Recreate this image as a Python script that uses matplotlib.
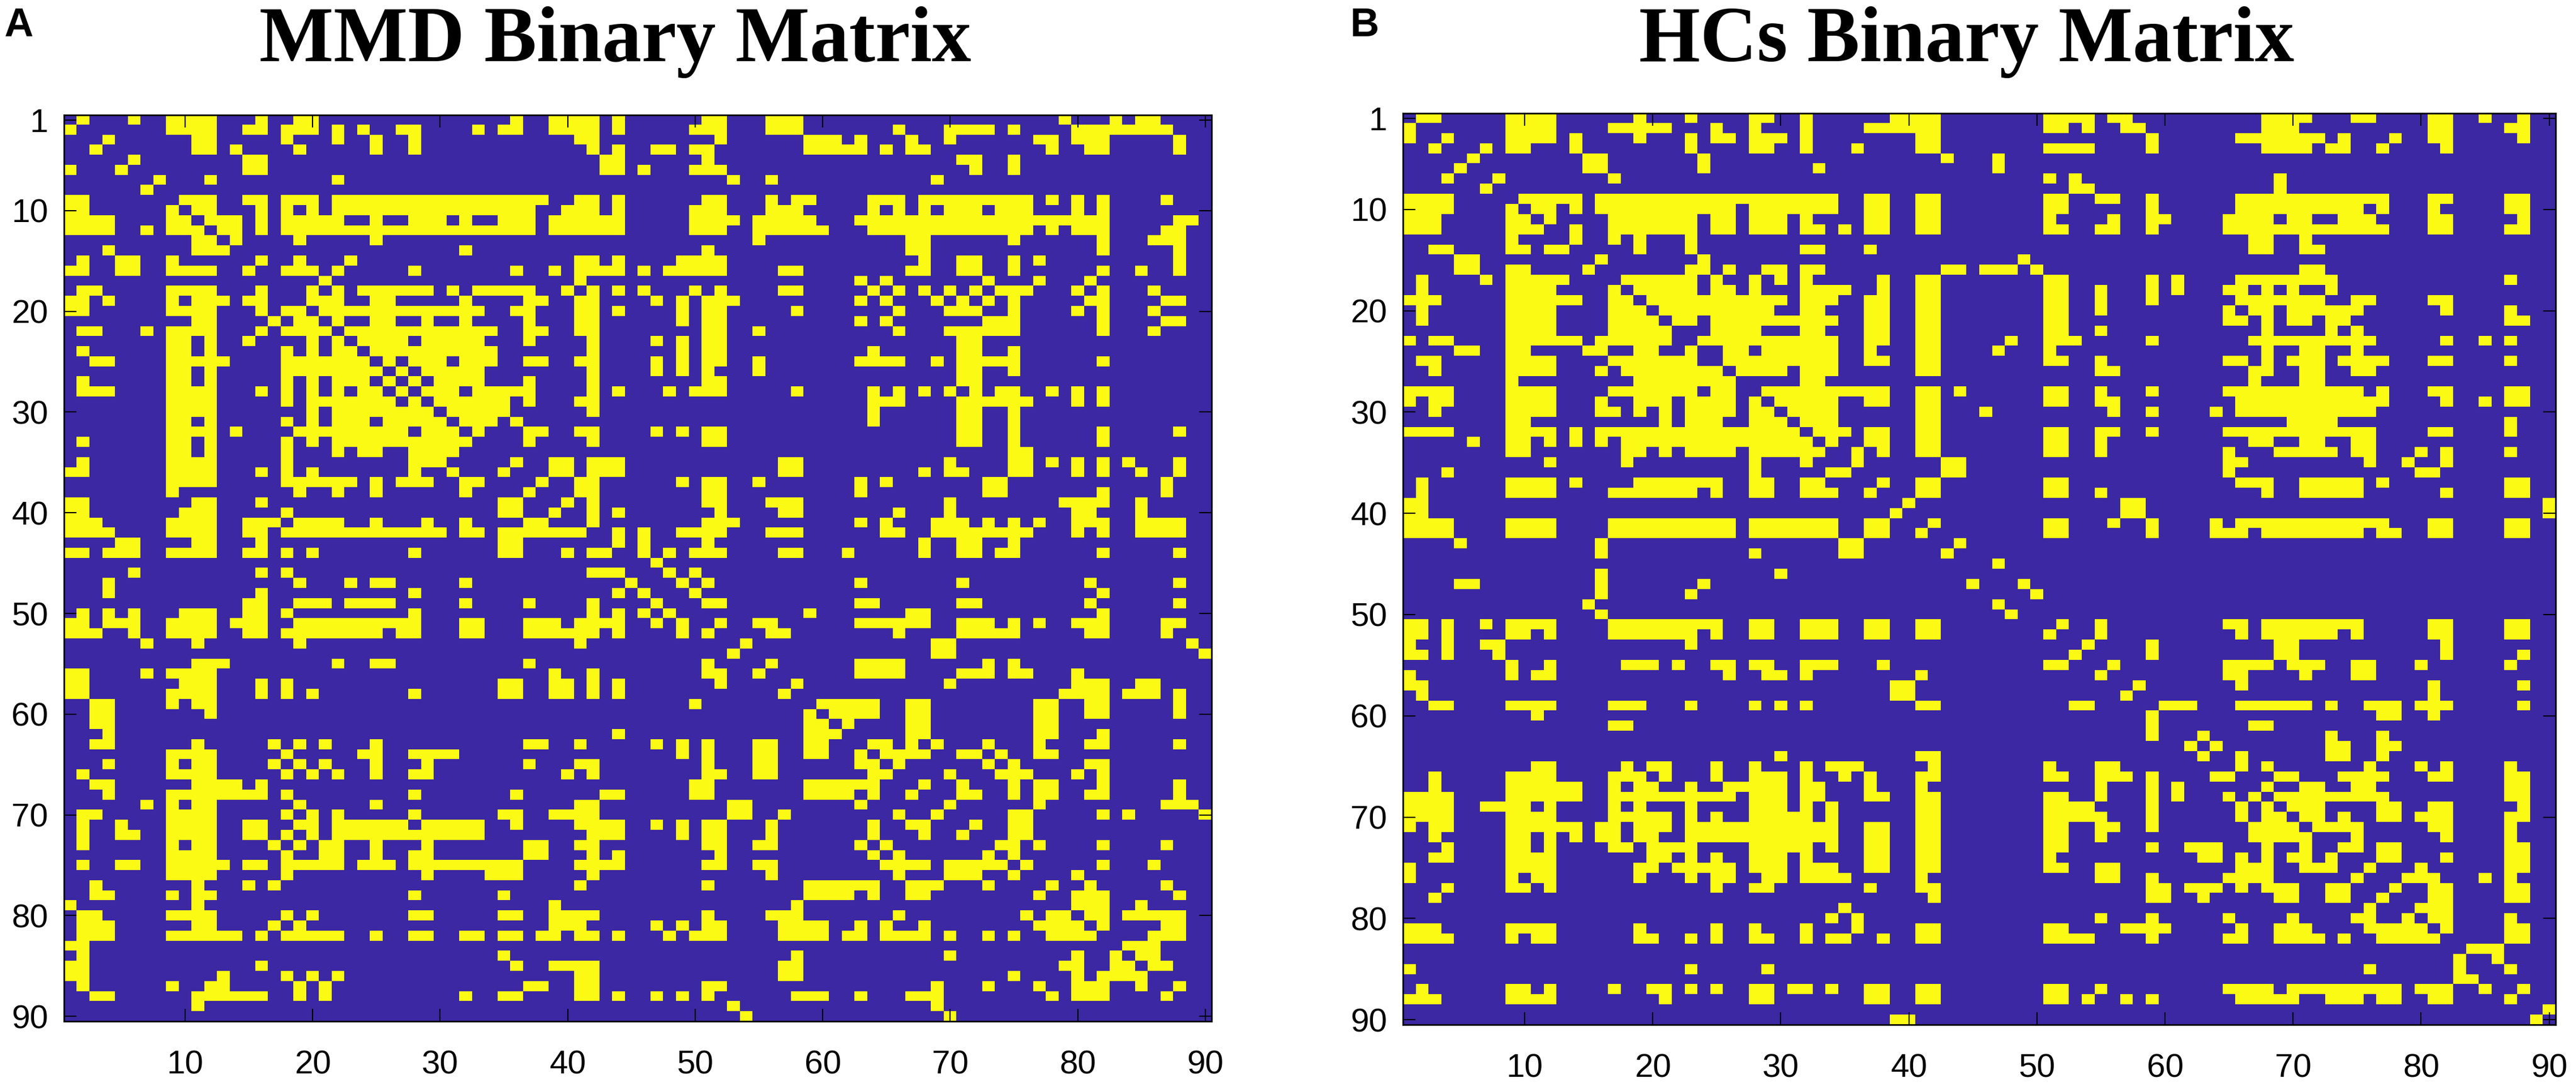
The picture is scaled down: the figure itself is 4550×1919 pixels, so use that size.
import numpy as np
import matplotlib
matplotlib.use("Agg")
import matplotlib.pyplot as plt
from matplotlib.colors import ListedColormap

# upper triangle of each symmetric matrix, one string per row (row 1 first),
# columns with a connection, a-b is a run of columns
mmd_rows = [
    "2 6 9-12 16 19-20 36 39-42 44 51-52 56-58 79 83 85-86",
    "9-12 15-16 18-20 22 24 27-28 33 35-36 39-42 44 50-52 56-58 66 70-73 75 80-87",
    "4 11-12 18 22 25 28 41-42 52 59-61 63 67 70 77-78 80-82 88",
    "11-12 14 19 25 28 42 44 47-48 50-51 59-63 65 67-68 78 81-82 88",
    "6 15-16 43-44 51 71-72 75",
    "15-16 43-44 46 50-52 72 75",
    "8 12 22 53 56 69",
    "",
    "10-12 15-16 18-20 22-38 41-42 44 51-52 56 58-59 64-66 68-76 78 80 82 87",
    "11-12 16 18 20 22-37 40-42 44 50-52 56-58 64 66 68 70-72 74-76 80 82",
    "12-14 16 18-22 25 28-30 32 35-37 39-44 50-53 55-59 63-82 88-89",
    "13-14 16 18-37 39-44 50-52 55-60 64-76 78 80-82 87-88",
    "14 19 25 55 67-68 75 82 86-88",
    "32 51 67-68 82 88",
    "16 19 23 41-42 44 49-52 68 71-72 75 77 88",
    "18-20 22 28 36 39 41-44 46 48-52 57-58 67-68 71-72 75 82 85 88",
    "21 41 63 65 73 77 81",
    "20 22 24-29 31 33-37 40 42 44 46 50 52 57-58 64 66 68 70 72 74-76 80 82 86",
    "20-22 25-26 32 37-38 41-42 47 49 51-53 63 65 69 71 73 75 81-82 87-88",
    "21-33 36-37 41-42 44 49 51-52 58 66 70-72 75 80 82 86",
    "22 25-26 29 32 37 41-42 49 51-52 63 65 73-75 82 87-88",
    "23-34 37-38 41-42 51-52 55 66 70-75 82 86",
    "24-27 29-33 37 42 47 49 51-52 71-72",
    "25-34 42 49 51-52 64 71-72 75",
    "26 28-30 32-34 37-38 41-42 47 49 51-52 55 63-66 69 71-75 82",
    "27 29-33 42 47 49 51 55 71-72 75",
    "28 30-33 37 42 51-52 71-72",
    "29-31 33-37 42 44 48 50-52 58 64 66 68 70 72 74-75 78 80 82",
    "30-35 37 41-42 64-66 71-76 80 82",
    "31-35 42 64 71-72 75",
    "32-34 36 64 71-72 75",
    "33 37-38 41-42 47 49 51-52 71-72 75 82 88",
    "37 42 51-52 71-72 75 82",
    "75-76",
    "36 39-40 42-44 57-58 70 75-76 78 80 82 84 88",
    "39-40 42-44 57-58 68 70-71 75-76 80 82 85 88",
    "38 41-42 49 51-52 55 63 65 73-74 87",
    "41-42 51-52 63 73-74 82 87",
    "40 42 51-52 56-58 70 79-82 85",
    "42 44 52 57-58 66 70 80-81 85",
    "42 51-53 63 65 69-71 73 75 77 80-82 85-88",
    "44 46 49-52 56-58 65-66 69-76 80 82 85-88",
    "44 46 51 68 71-72 75",
    "46 48 50-52 57-58 62 68 71-72 74-75 82 88",
    "47",
    "48 50",
    "49 51 63 71 81 88",
    "50 82",
    "51-52 63-64 71-72 81 88",
    "59 67-68 82",
    "52 55-56 63-68 71-73 75 77 80-82 87-88",
    "56-57 66 71-75 81-82 87",
    "54 69-70 89",
    "69-70 90",
    "56 63-66 73 75",
    "63-66 71-73 75-76 80",
    "58 70 80-82 85-86",
    "79-82 84-86 88",
    "60-64 67-68 77-78 81-82 88",
    "61-64 67-68 77-78 81-82 88",
    "62 67-68 77-78",
    "67-68 77-78 82",
    "64-65 67 69 73 77 81-82 88",
    "65-68 71-72 74 77-78",
    "66 73 75 81-82",
    "70 74-76 80 82",
    "68 71 75 77-78 82 88",
    "71-72 75 77-78 81-82 88",
    "70 77 87-89",
    "75-76 82 84 90",
    "72 75-76",
    "75-76",
    "74-75 77 82 87",
    "75",
    "76 82 86",
    "80",
    "78 81 87",
    "80-82 88",
    "80-82 85",
    "81-82 84-88",
    "82 87-88",
    "86-88",
    "84-86",
    "85-86",
    "86-87",
    "",
    "88",
    "",
    "",
    "",
]

hc_rows = [
    "2-3 9-12 19 23 28-29 32 39-42 51-54 56-57 68-71 75-76 81-82 85 88",
    "9-12 17-21 25 28 32 37-42 51-52 54 57-58 68-70 81-82 87-88",
    "4 9-12 14 19 23 25-26 28-30 32 41-42 59 66-72 74 78 81-82 88",
    "7 9-10 14 23 28-29 32 36 41-42 51-54 59 68-71 73-74 77 82",
    "6 15-16 24 43 47",
    "15-16 24 33 47",
    "8 17 51 53 69",
    "53-54 69",
    "10-14 16-34 37-38 41-42 51-52 55-56 59 66-77 81-82 87-88",
    "11-12 14 16-26 28-34 37-38 41-42 51-52 59 66-75 77 81 87-88",
    "12 17-23 25-26 28-30 32 37-38 41-42 51 56 59-60 65-68 70-71 74-76 81-82 88",
    "14 17-23 25-26 28-30 32-33 35 37-38 41-42 51-52 55-56 59 65-77 81-82 87-88",
    "14 17 19 23 67-68 71",
    "19 23 32-33 37 67-68 71-72",
    "16 24 49",
    "23-24 26 29-30 32-33 43-44 46-48 50 71-72",
    "18-23 25 28 30 32 38 41-42 51-52 59 61 66-73 87",
    "19-23 25-26 28 32-35 38 41-42 51-52 55 59 61 65-66 68 70 73",
    "20-30 32-34 37-38 41-42 51-52 55 59 66-72 75-76 81-82",
    "21-29 32-33 37-38 41-42 51-52 55 65 67-68 70-75 82 87",
    "22-23 25-34 37-38 41-42 51-52 65-66 68 70-71 73-74 87-88",
    "25-28 32-33 37-38 41-42 51-52 55 68 73 75",
    "24-34 37-38 41-42 48 51-53 59 67-76 82 85 87",
    "26-27 29-34 37 41-42 47 51 68 71-72 75",
    "26-34 37-38 41-42 51-52 55 65-66 68 70-72 74-77 81-82 87",
    "27-30 32-34 41-42 55-56 67-68 71-72 75-76",
    "32-33 67 71-72",
    "29-38 41-42 44 51-52 55 59 65-75 77 81-82 87-88",
    "30-34 37-38 41-42 51-52 55-56 66-77 82 85 87-88",
    "31-34 41-42 46 56 59 64 66-76",
    "32-34 41-42 70-73 87",
    "33-35 37-38 41-42 51-52 55-56 59 65-76 81-82 87",
    "34 37-38 41-42 51-52 55 67-68 71-72 75-76",
    "36 38 41-42 51-52 55 65 69-73 75-76 80 82 87",
    "36 43-44 65-66 76 79 82",
    "43-44 65 80-81",
    "38 41-42 51-52 66-68 71-75 77 87-88",
    "41-42 51-52 55 68 71-75 82 87-88",
    "40 57-58 90",
    "57-58 90",
    "42 51-52 56 59 64 66-77 81-82 87-88",
    "51-52 59 64-66 68-75 77-78 81-82 87-88",
    "44",
    "",
    "47",
    "",
    "49",
    "50",
    "",
    "",
    "52 55 65-66 68-75 81-82 87-88",
    "55 66 68-73 75 81-82 87-88",
    "54 59 69-70 82",
    "59 69-70 82 88",
    "56 65-68 70-72 75-76 80 87",
    "65-66 71 75-76",
    "58 66 81 88",
    "81",
    "60-62 66-71 73 76-78 80-82 88",
    "77-78 81",
    "67-68",
    "63 73 77",
    "64 73-74 77-78",
    "66 73-74 77",
    "66 68 76 80 82 87",
    "69-70 74-77 81-82 87-88",
    "68 71-72 75-76 87-88",
    "69-77 87-88",
    "70-72 77-78 81-82 88",
    "71-72 74 77-78 80-82 87-88",
    "72-75 81-82 87",
    "75 82 87",
    "74-75 77-78 87-88",
    "77-78 82 87-88",
    "76 80 87-88",
    "79-81 85 87",
    "78 81-82 87-88",
    "81-82 87-88",
    "80-82",
    "81-82 87",
    "82 87-88",
    "87-88",
    "84-86",
    "86",
    "87",
    "",
    "88",
    "",
    "90",
    "",
]

titles = ["MMD Binary Matrix", "HCs Binary Matrix"]
letters = ["A", "B"]
x_ticks = [10, 20, 30, 40, 50, 60, 70, 80, 90]
y_ticks = [1, 10, 20, 30, 40, 50, 60, 70, 80, 90]

W, H = 4550, 1919


def to_matrix(rows):
    m = np.zeros((90, 90))
    for i, line in enumerate(rows):
        for part in line.split():
            a, _, b = part.partition("-")
            b = b or a
            m[i, int(a) - 1:int(b)] = 1
    return m + np.triu(m, 1).T


def add_panel(fig, rows, box, title, title_x, letter, letter_x):
    left, top, right, bottom = box
    ax = fig.add_axes([left / W, 1 - bottom / H, (right - left) / W, (bottom - top) / H])
    ax.imshow(to_matrix(rows), cmap=cmap, vmin=0, vmax=1, aspect="auto",
              interpolation="nearest", extent=(0.5, 90.5, 90.5, 0.5))
    ax.set_xticks(x_ticks)
    ax.set_yticks(y_ticks)
    ax.tick_params(axis="x", direction="in", top=True, length=16, width=1.5,
                   pad=36, labelsize=42)
    ax.tick_params(axis="y", direction="in", right=True, length=16, width=1.5,
                   pad=20, labelsize=42)
    for s in ax.spines.values():
        s.set_linewidth(2)
    fig.text(title_x / W, 1 - 108 / H, title, family="Liberation Serif", weight="bold",
             fontsize=100, ha="center", va="baseline")
    fig.text(letter_x / W, 1 - 64 / H, letter, family="Liberation Sans", weight="bold",
             fontsize=51, ha="left", va="baseline")


plt.rcParams["font.family"] = ["Liberation Sans", "DejaVu Sans"]
cmap = ListedColormap(["#3B28A2", "#FAFA14"])

fig = plt.figure(figsize=(W / 100, H / 100), dpi=100)
add_panel(fig, mmd_rows, (113, 203, 2140, 1803), titles[0], 1087, letters[0], 7)
add_panel(fig, hc_rows, (2478, 200, 4514, 1809), titles[1], 3474, letters[1], 2384)
fig.savefig("out.png", dpi=100)
